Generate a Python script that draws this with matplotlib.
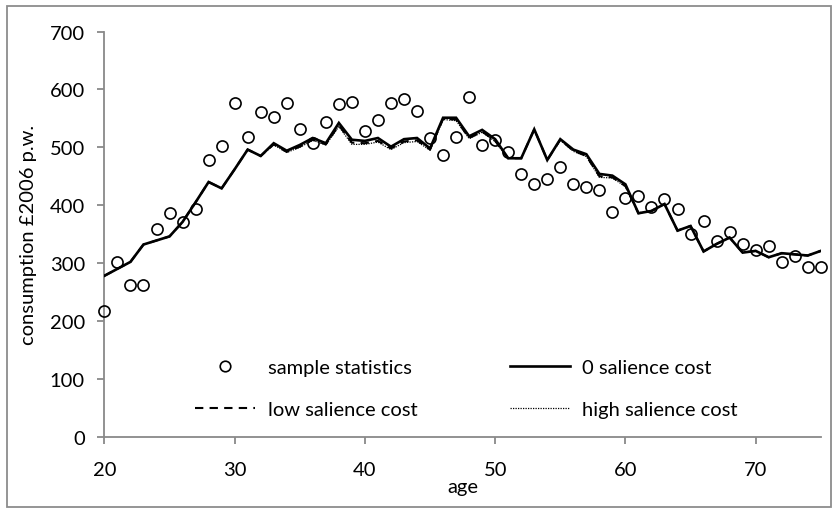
import matplotlib
matplotlib.use("Agg")
import matplotlib.pyplot as plt
from matplotlib.patches import Rectangle

ages = list(range(20, 76))
sample_stats = [217, 301, 262, 262, 359, 387, 371, 393, 478, 502,
                576, 517, 561, 552, 577, 532, 507, 543, 575, 579,
                528, 547, 576, 583, 562, 516, 486, 517, 586, 504,
                512, 491, 454, 437, 446, 466, 436, 431, 426, 389,
                413, 416, 396, 410, 393, 350, 373, 338, 353, 333,
                322, 329, 301, 313, 294, 294]
zero_cost = [278, 290, 302, 332, 339, 346, 371, 405, 440, 429,
             462, 496, 485, 507, 494, 504, 516, 507, 542, 513,
             511, 516, 501, 514, 516, 498, 551, 551, 519, 530,
             514, 481, 481, 531, 478, 514, 496, 488, 454, 451,
             436, 386, 390, 402, 356, 364, 320, 333, 344, 318,
             321, 310, 317, 315, 313, 321]
low_cost = [278, 290, 302, 332, 339, 346, 371, 405, 440, 429,
            462, 496, 485, 505, 492, 501, 513, 505, 538, 508,
            507, 511, 498, 510, 512, 496, 549, 548, 516, 527,
            511, 481, 481, 531, 478, 513, 494, 485, 450, 448,
            433, 386, 390, 402, 356, 364, 320, 333, 344, 318,
            321, 310, 317, 315, 313, 321]
high_cost = [278, 290, 302, 332, 339, 346, 371, 405, 440, 429,
             462, 496, 485, 504, 491, 500, 512, 504, 536, 505,
             505, 509, 496, 508, 510, 495, 548, 546, 515, 526,
             510, 481, 481, 531, 478, 512, 493, 484, 448, 447,
             432, 386, 390, 402, 356, 364, 320, 333, 344, 318,
             321, 310, 317, 315, 313, 321]
x_ticks = [20, 30, 40, 50, 60, 70]
y_ticks = [0, 100, 200, 300, 400, 500, 600, 700]
labels = ["sample statistics", "0 salience cost", "low salience cost", "high salience cost"]

plt.rcParams['font.family'] = ['Lato', 'DejaVu Sans']

W, H = 836, 510
fig = plt.figure(figsize=(W / 100, H / 100), dpi=100)

def fx(px):
    return px / W

def fy(py):
    return 1 - py / H

# outer frame
fig.patches.append(Rectangle((fx(7), fy(508)), fx(831) - fx(7), fy(7) - fy(508),
                             transform=fig.transFigure, fill=False,
                             edgecolor='#8c8c8c', linewidth=1.3))

left, right, bottom, top = 104.4, 820.8, 437.7, 32.5
ax = fig.add_axes([fx(left), fy(bottom), fx(right) - fx(left), fy(top) - fy(bottom)])

gray = '#898989'
h_s, = ax.plot(ages, sample_stats, linestyle='none', marker='o', markersize=8,
               markerfacecolor='none', markeredgecolor='black', markeredgewidth=1.2,
               clip_on=False, zorder=5)
h_z, = ax.plot(ages, zero_cost, color='black', linewidth=1.9, solid_joinstyle='miter', zorder=4)
h_l, = ax.plot(ages, low_cost, color='black', linewidth=1.5, linestyle=(0, (4, 3)), zorder=3)
h_h, = ax.plot(ages, high_cost, color='black', linewidth=0.9, linestyle=(0, (1, 1)), zorder=3)

ax.set_xlim(20, 75)
ax.set_ylim(0, 700)
ax.set_xticks(x_ticks)
ax.set_yticks(y_ticks)
for s in ['top', 'right']:
    ax.spines[s].set_visible(False)
for s in ['left', 'bottom']:
    ax.spines[s].set_color(gray)
    ax.spines[s].set_linewidth(1.3)
ax.tick_params(axis='both', colors=gray, labelcolor='black', width=1.3,
               length=5, direction='out', labelsize=14.5)
ax.tick_params(axis='x', pad=12.5)
ax.tick_params(axis='y', pad=9)

ax.set_xlabel('age', fontsize=14.5, labelpad=0)
ax.set_ylabel('consumption £2006 p.w.', fontsize=14.5, labelpad=9)

leg = ax.legend([h_s, h_l, h_z, h_h], [labels[0], labels[2], labels[1], labels[3]],
                ncol=2, frameon=False, fontsize=14.5, loc='center left',
                bbox_to_anchor=((195 - left) / (right - left), (bottom - 389.5) / (bottom - top)),
                borderpad=0, borderaxespad=0, handlelength=3.0, handletextpad=0.6,
                columnspacing=4.6, labelspacing=1.2, markerscale=0.95)

fig.savefig('out.png', dpi=100)
